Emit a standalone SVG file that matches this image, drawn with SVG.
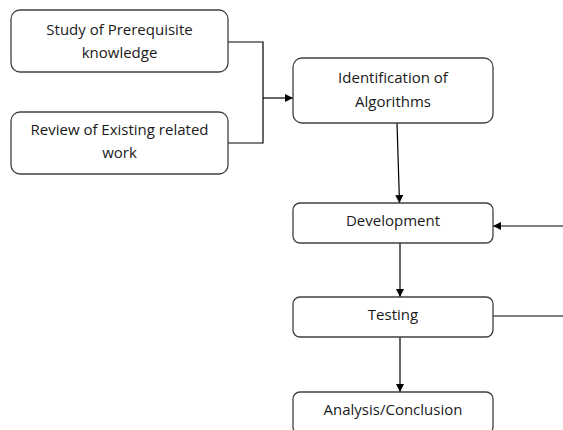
<svg xmlns="http://www.w3.org/2000/svg" width="563" height="430" viewBox="0 0 563 430">
<defs>
<style>
.box{fill:#fff;stroke:#404040;stroke-width:1.3}
.t{font-family:"Open Sans","Liberation Sans",Arial,sans-serif;font-size:15px;fill:#1a1a1a;text-anchor:middle}
.c{fill:none;stroke:#000;stroke-width:1.2}
</style>
<marker id="ah" viewBox="0 0 10 10" refX="10" refY="5" markerWidth="8" markerHeight="8" markerUnits="userSpaceOnUse" orient="auto"><path d="M0,0 L10,5 L0,10 z" fill="#000"/></marker>
</defs>
<rect width="563" height="430" fill="#fff"/>
<g id="connectors">
<path class="c" d="M228,42 H263 V143 H228"/>
<path class="c" d="M263,98 H293" marker-end="url(#ah)"/>
<path class="c" d="M397,123 L399.5,203" marker-end="url(#ah)"/>
<path class="c" d="M563,226 H493" marker-end="url(#ah)"/>
<path class="c" d="M400,243 V297" marker-end="url(#ah)"/>
<path class="c" d="M493,316 H563"/>
<path class="c" d="M400,337 V392" marker-end="url(#ah)"/>
</g>
<g id="study"><rect class="box" x="11" y="10" width="217" height="62" rx="9"/><text class="t" x="119.5" y="35">Study of Prerequisite</text><text class="t" x="119.5" y="58">knowledge</text></g>
<g id="review"><rect class="box" x="11" y="112" width="217" height="62" rx="9"/><text class="t" x="119.5" y="135">Review of Existing related</text><text class="t" x="119.5" y="158">work</text></g>
<g id="identification"><rect class="box" x="293" y="58" width="200" height="65" rx="9"/><text class="t" x="393" y="83">Identification of</text><text class="t" x="393" y="107">Algorithms</text></g>
<g id="development"><rect class="box" x="293" y="203" width="200" height="40" rx="7"/><text class="t" x="393" y="226">Development</text></g>
<g id="testing"><rect class="box" x="293" y="297" width="200" height="40" rx="7"/><text class="t" x="393" y="320">Testing</text></g>
<g id="analysis"><rect class="box" x="293" y="392" width="200" height="42" rx="7"/><text class="t" x="393" y="415">Analysis/Conclusion</text></g>
</svg>
